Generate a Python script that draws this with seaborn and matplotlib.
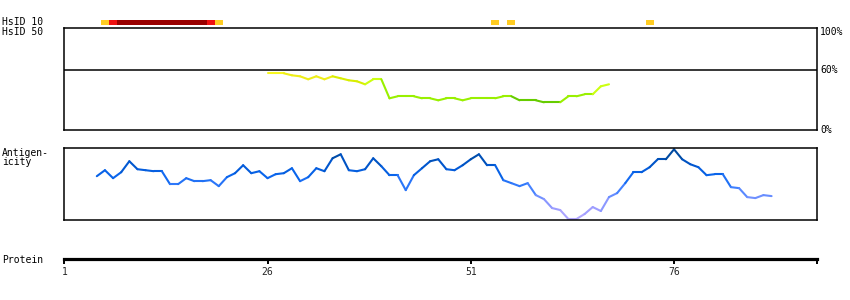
import matplotlib
matplotlib.use("Agg")
import matplotlib.pyplot as plt
import seaborn as sns
import pandas as pd
import numpy as np
from matplotlib.colors import LinearSegmentedColormap

# ---------------- data ----------------
protein_end = 93.55
tick_residues = [1, 26, 51, 76]
tick_labels = ["1", "26", "51", "76"]

hsid10_pos = [6, 7, 8, 9, 10, 11, 12, 13, 14, 15, 16, 17, 18, 19, 20, 54, 56, 73]
hsid10_level = ["low", "mid"] + ["high"] * 11 + ["mid", "low", "low", "low", "low"]

hsid50_pos = list(range(26, 69))
hsid50_val = [57, 57, 57, 55, 54, 51, 54, 51, 54, 52, 50, 49, 46, 51, 51,
              32, 34, 34, 34, 32, 32, 30, 32, 32, 30, 32, 32, 32, 32, 34, 34,
              30, 30, 30, 28, 28, 28, 34, 34, 36, 36, 44, 46]
hsid50_group = (["y1"] * 3 + ["y2"] * 6 + ["y3"] * 4 + ["y4"] * 2 +
                ["g1"] * 16 + ["g2"] * 6 + ["g1"] * 4 + ["y4"] * 2)

antigen_pos = list(range(5, 89))
antigen_val = [44, 50, 42, 48, 59, 51, 50, 49, 49, 36,   # 5-14
               36, 42, 39, 39, 40, 34, 43, 47, 55, 47,   # 15-24
               49, 42, 46, 47, 52, 39, 43, 52, 49, 62,   # 25-34
               66, 50, 49, 51, 62, 54, 45, 45, 30, 45,   # 35-44
               52, 59, 61, 51, 50, 55, 61, 66, 55, 55,   # 45-54
               40, 37, 34, 37, 25, 21, 12, 10, 1, 1,     # 55-64
               6, 13, 9, 23, 27, 37, 48, 48, 53, 61,     # 65-74
               61, 71, 61, 56, 53, 45, 46, 46, 33, 32,   # 75-84
               23, 22, 25, 24]                           # 85-88

# ---------------- style ----------------
sns.set_style("white")
plt.rcParams["font.family"] = ["DejaVu Sans Mono"]
FS = 7

level_colors = {"low": "#ffcc22", "mid": "#ee1111", "high": "#990000"}
group_colors = {"y1": "#f8f820", "y2": "#eeee18", "y3": "#d8ee00",
                "y4": "#ccff11", "g1": "#99f000", "g2": "#66cc00"}
antigen_cmap = LinearSegmentedColormap.from_list(
    "ag", [(0.0, "#b8aaff"), (0.17, "#9a9cff"), (0.32, "#6f90ff"),
           (0.45, "#3f80ff"), (0.62, "#0a66ee"), (0.78, "#0055cc"),
           (0.92, "#004aa0"), (1.0, "#003f8a")])

W, H = 850, 300
fig = plt.figure(figsize=(W / 100, H / 100), dpi=100)


def rect(x0, y0, x1, y1):
    return [x0 / W, 1 - y1 / H, (x1 - x0) / W, (y1 - y0) / H]


XL, XR = 64.3, 816.7

# ---- HsID 10 bar row ----
ax10 = fig.add_axes(rect(XL, 19.5, XR, 25))
ax10.bar(hsid10_pos, [1] * len(hsid10_pos), width=1.0,
         color=[level_colors[l] for l in hsid10_level], linewidth=0)
ax10.set_xlim(1, protein_end)
ax10.set_ylim(0, 1)
ax10.axis("off")

# ---- HsID 50 panel ----
ax50 = fig.add_axes(rect(XL, 28.3, XR, 130.3))
ax50.set_xlim(1, protein_end)
ax50.set_ylim(0, 102)
ax50.axhline(60, color="black", lw=1.1)
rows = []
for i in range(1, len(hsid50_pos)):
    for j in (i - 1, i):
        rows.append({"pos": hsid50_pos[j], "val": hsid50_val[j],
                     "seg": i, "grp": hsid50_group[i]})
df50 = pd.DataFrame(rows)
pal50 = {i: group_colors[hsid50_group[i]] for i in range(1, len(hsid50_pos))}
sns.lineplot(data=df50, x="pos", y="val", hue="seg", palette=pal50,
             estimator=None, sort=False, legend=False, ax=ax50,
             linewidth=1.5, solid_capstyle="round")
ax50.set_xticks([])
ax50.set_yticks([])
ax50.set_xlabel("")
ax50.set_ylabel("")
for s in ax50.spines.values():
    s.set_color("black")
    s.set_linewidth(1.1)

# ---- Antigenicity panel ----
axag = fig.add_axes(rect(XL, 148.3, XR, 220.0))
axag.set_xlim(1, protein_end)
axag.set_ylim(0, 72)
rows = []
for i in range(1, len(antigen_pos)):
    for j in (i - 1, i):
        rows.append({"pos": antigen_pos[j], "val": antigen_val[j], "seg": i})
dfag = pd.DataFrame(rows)
palag = {i: antigen_cmap(((antigen_val[i - 1] + antigen_val[i]) / 2) / 72)
         for i in range(1, len(antigen_pos))}
sns.lineplot(data=dfag, x="pos", y="val", hue="seg", palette=palag,
             estimator=None, sort=False, legend=False, ax=axag,
             linewidth=1.5, solid_capstyle="round")
axag.set_xticks([])
axag.set_yticks([])
axag.set_xlabel("")
axag.set_ylabel("")
for s in axag.spines.values():
    s.set_color("black")
    s.set_linewidth(1.1)

# ---- Protein axis ----
axp = fig.add_axes(rect(XL, 249, XR, 259))
axp.set_xlim(1, protein_end)
axp.set_ylim(0, 1)
for k in ("top", "left", "right"):
    axp.spines[k].set_visible(False)
axp.spines["bottom"].set_linewidth(2.3)
axp.spines["bottom"].set_color("black")
axp.set_yticks([])
axp.set_xticks(tick_residues + [protein_end])
axp.set_xticklabels(tick_labels + [""], fontsize=FS)
axp.tick_params(axis="x", bottom=True, labelbottom=True, direction="out",
                length=3.5, width=1.4, color="black", pad=2)
axp.set_facecolor("none")

# ---- labels ----
def lab(x, y, s, ha="left"):
    fig.text(x / W, 1 - y / H, s, fontsize=FS, ha=ha, va="center",
             color="black")

lab(2, 22, "HsID 10")
lab(2, 32, "HsID 50")
lab(2, 153, "Antigen-")
lab(2, 162, "icity")
lab(2, 260, "Protein")
lab(820, 32, "100%")
lab(820, 70, "60%")
lab(820, 130, "0%")

fig.savefig("out.png", dpi=100, facecolor="white")
